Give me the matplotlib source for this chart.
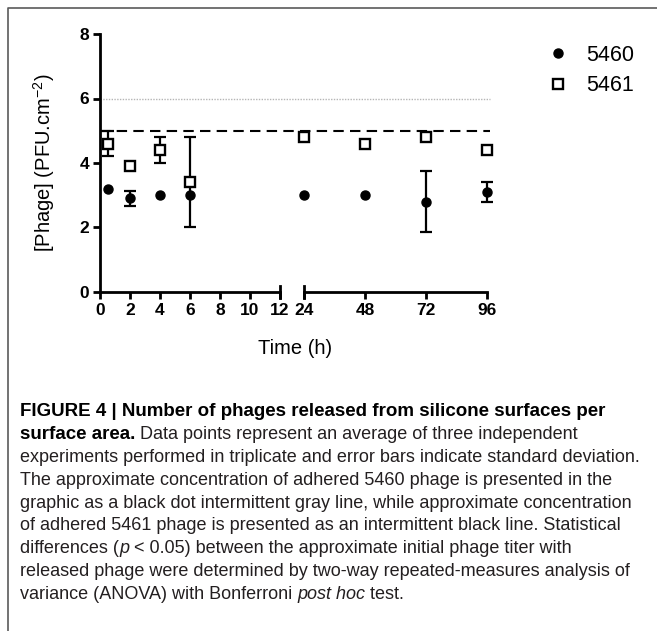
import numpy as np
import matplotlib.pyplot as plt
from matplotlib.lines import Line2D

plt.rcParams['font.family'] = ['Liberation Sans', 'DejaVu Sans']
plt.rcParams['mathtext.fontset'] = 'custom'
plt.rcParams['mathtext.rm'] = 'Liberation Sans'
plt.rcParams['mathtext.it'] = 'Liberation Sans:italic'

# ---------------- data ----------------
hours = np.array([0.5, 2, 4, 6, 24, 48, 72, 96])
phage_5460 = np.array([3.2, 2.9, 3.0, 3.0, 3.0, 3.0, 2.8, 3.1])
sd_5460 = np.array([0, 0.22, 0, 0, 0, 0, 0.95, 0.32])
phage_5461 = np.array([4.6, 3.9, 4.4, 3.4, 4.8, 4.6, 4.8, 4.4])
sd_5461 = np.array([0.38, 0, 0.4, 1.4, 0, 0, 0, 0])
level_5460 = 6.0   # adhered 5460 (gray dotted)
level_5461 = 5.0   # adhered 5461 (black dashed)
left_ticks = [0, 2, 4, 6, 8, 10, 12]
right_ticks = [24, 48, 72, 96]
y_ticks = [0, 2, 4, 6, 8]

caption_lines = [
    "experiments performed in triplicate and error bars indicate standard deviation.",
    "The approximate concentration of adhered 5460 phage is presented in the",
    "graphic as a black dot intermittent gray line, while approximate concentration",
    "of adhered 5461 phage is presented as an intermittent black line. Statistical",
    "released phage were determined by two-way repeated-measures analysis of",
]

# ---------------- figure ----------------
W, H = 657, 631
fig = plt.figure(figsize=(W / 100, H / 100), dpi=100, facecolor='white')

def px_rect(x0, x1, y_top, y_bot):
    return [x0 / W, 1 - y_bot / H, (x1 - x0) / W, (y_bot - y_top) / H]

ax1 = fig.add_axes(px_rect(100, 280, 34, 292))
ax2 = fig.add_axes(px_rect(304, 487, 34, 292), sharey=ax1)

LW = 2.0
for ax in (ax1, ax2):
    ax.patch.set_visible(False)
    ax.spines['top'].set_visible(False)
    ax.spines['right'].set_visible(False)
    ax.spines['bottom'].set_linewidth(LW)
    ax.spines['left'].set_linewidth(LW)
    ax.tick_params(width=LW, length=5, labelsize=12.5, pad=3)
ax2.spines['left'].set_visible(False)
ax2.tick_params(axis='y', left=False, labelleft=False)

ax1.set_xlim(0, 12)
ax2.set_xlim(24, 96)
ax1.set_ylim(0, 8)
ax1.set_xticks(left_ticks)
ax2.set_xticks(right_ticks)
ax1.set_yticks(y_ticks)
for ax in (ax1, ax2):
    for lab in ax.get_xticklabels() + ax.get_yticklabels():
        lab.set_fontweight('bold')

# break caps on the x axis
ax1.plot([1, 1], [-0.022, 0.022], transform=ax1.transAxes, color='k', lw=LW, clip_on=False)
ax2.plot([0, 0], [-0.022, 0.022], transform=ax2.transAxes, color='k', lw=LW, clip_on=False)

# reference lines span both panels
p1 = ax1.get_position()
p2 = ax2.get_position()
xmax = (p2.x1 - p1.x0) / p1.width + 0.015
ax1.axhline(level_5460, xmin=0, xmax=xmax, color='#b5b5b5', lw=1.0,
            linestyle=(0, (1, 1)), clip_on=False, zorder=1)
ax1.axhline(level_5461, xmin=0, xmax=xmax, color='k', lw=1.5,
            linestyle=(0, (5, 3)), clip_on=False, zorder=1)

left = hours <= 12
right = hours >= 24
handles = []
for mean, sd, style in [
    (phage_5460, sd_5460, dict(marker='o', ms=6.5, mfc='k', mec='k', mew=1)),
    (phage_5461, sd_5461, dict(marker='s', ms=7, mfc='white', mec='k', mew=1.7)),
]:
    for ax, m in ((ax1, left), (ax2, right)):
        e = m & (sd > 0)
        if e.any():
            ax.errorbar(hours[e], mean[e], yerr=sd[e], fmt='none', ecolor='k',
                        elinewidth=1.6, capsize=4.5, capthick=1.6, zorder=2, clip_on=False)
        h, = ax.plot(hours[m], mean[m], linestyle='none', zorder=3, clip_on=False, **style)
    handles.append(h)

fig.legend(handles, ['5460', '5461'], loc='upper left',
           bbox_to_anchor=(547 / W, 1 - 45 / H), frameon=False, fontsize=15.5,
           handlelength=1.0, handletextpad=0.8, labelspacing=0.44,
           borderpad=0, borderaxespad=0)

ax1.set_ylabel('[Phage] (PFU.cm$^{-2}$)', fontsize=14.5, labelpad=16)
fig.text(295 / W, 1 - 348 / H, 'Time (h)', fontsize=14.5, ha='center', va='center')

# ---------------- caption ----------------
CAP = 13
CAPB = 13.5
txt_col = '#231f20'
x0 = 20 / W
line_y = [410, 433, 456, 479, 502, 524, 547, 570, 593]

def line_start(i, s, size=CAP, **kw):
    return fig.text(x0, 1 - (line_y[i] + 6) / H, s, fontsize=size, color=txt_col,
                    ha='left', va='baseline', **kw)

def chain(prev, s, **kw):
    return fig.add_artist(plt.Annotation(s, xy=(1, 0), xycoords=prev, fontsize=CAP,
                                         color=txt_col, ha='left', va='bottom', **kw))

line_start(0, 'FIGURE 4 | Number of phages released from silicone surfaces per',
           size=CAPB, fontweight='bold').set_color('black')
t = line_start(1, 'surface area.', size=CAPB, fontweight='bold')
t.set_color('black')
chain(t, ' Data points represent an average of three independent')
line_start(2, caption_lines[0])
line_start(3, caption_lines[1])
line_start(4, caption_lines[2])
line_start(5, caption_lines[3])
t = line_start(6, 'differences (')
t = chain(t, 'p', style='italic')
chain(t, ' < 0.05) between the approximate initial phage titer with')
line_start(7, caption_lines[4])
t = line_start(8, 'variance (ANOVA) with Bonferroni ')
t = chain(t, 'post hoc', style='italic')
chain(t, ' test.')

# page frame (top and left edges)
fig.add_artist(Line2D([8 / W, 8 / W, 1], [0, 1 - 8 / H, 1 - 8 / H],
                      transform=fig.transFigure, color='#5a5a5a', lw=1.2))

fig.savefig('out.png', dpi=100, facecolor='white')
